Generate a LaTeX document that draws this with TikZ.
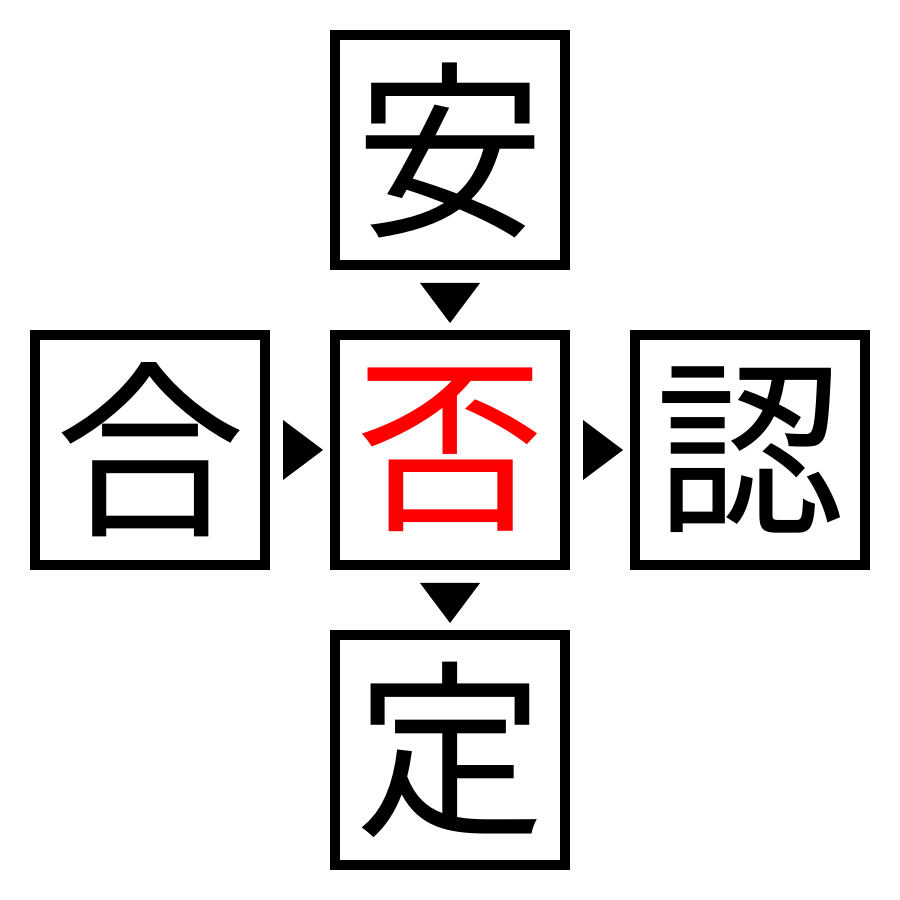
\documentclass[tikz,border=0pt]{standalone}
\usepackage{fontspec}
\newfontfamily\cjk{Noto Sans CJK JP}
\usetikzlibrary{calc}
\begin{document}
\begin{tikzpicture}
\fill[white] (0,0) rectangle (9,9);
\useasboundingbox (0,0) rectangle (9,9);
\tikzset{
  kbox/.style={draw=black, line width=0.1cm, minimum size=2.3cm, inner sep=0pt,
    font=\cjk\fontsize{54}{54}\selectfont},
  tri/.style={fill=black}
}
\node[kbox] (top) at (4.5,7.5) {安};
\node[kbox] (left) at (1.5,4.5) {合};
\node[kbox, text=red] (mid) at (4.5,4.5) {否};
\node[kbox] (right) at (7.5,4.5) {認};
\node[kbox] (bot) at (4.5,1.5) {定};
% arrowheads
\fill[tri] ($(top.south)+(-0.3,-0.13)$) -- ++(0.6,0) -- ($(top.south)+(0,-0.53)$) -- cycle;
\fill[tri] ($(mid.south)+(-0.3,-0.13)$) -- ++(0.6,0) -- ($(mid.south)+(0,-0.53)$) -- cycle;
\fill[tri] ($(left.east)+(0.13,0.3)$) -- ++(0,-0.6) -- ($(left.east)+(0.53,0)$) -- cycle;
\fill[tri] ($(mid.east)+(0.13,0.3)$) -- ++(0,-0.6) -- ($(mid.east)+(0.53,0)$) -- cycle;
\end{tikzpicture}
\end{document}
